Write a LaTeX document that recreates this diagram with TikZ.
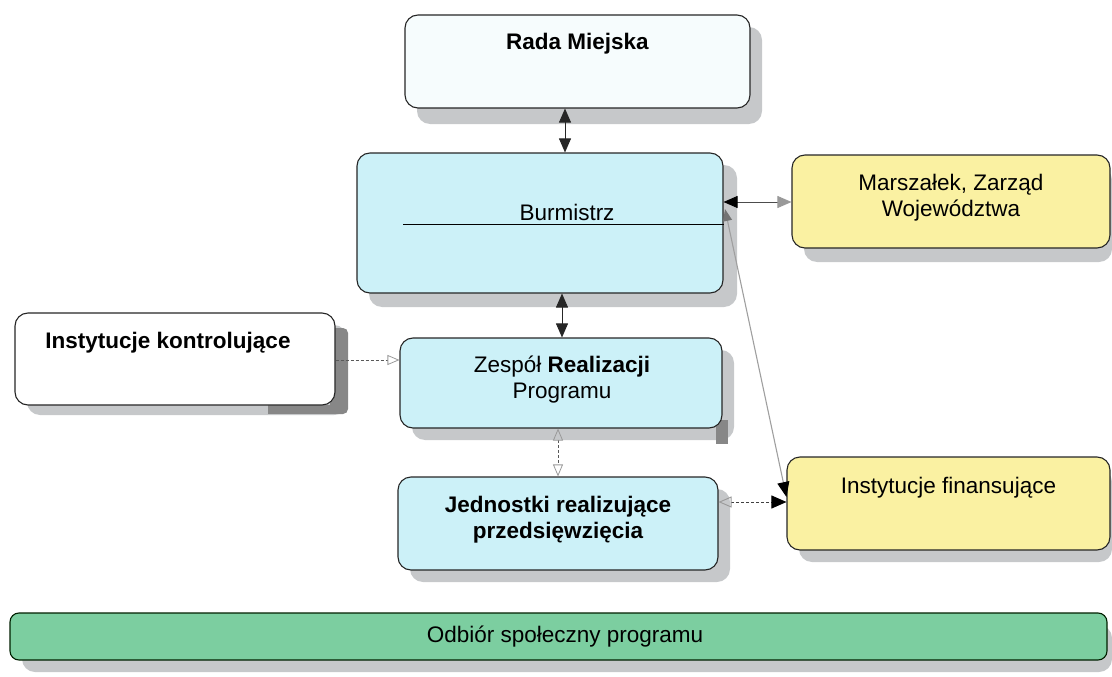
\documentclass[tikz,border=0pt]{standalone}
\usepackage{fontspec}
\setmainfont{Liberation Sans}
\usetikzlibrary{arrows.meta}
\definecolor{lblue}{RGB}{204,241,248}
\definecolor{wblue}{RGB}{246,252,253}
\definecolor{pyellow}{RGB}{250,241,162}
\definecolor{pgreen}{RGB}{124,206,160}
\definecolor{shd}{RGB}{198,200,202}
\definecolor{dshd}{RGB}{135,135,135}
\begin{document}
\begin{tikzpicture}[x=1pt,y=-1pt,
  box/.style={draw=black!85,line width=1.1pt,rounded corners=13pt,inner sep=0pt},
  txt/.style={font=\fontsize{22.5}{26}\selectfont,align=center,inner sep=0pt},
  shadowfill/.style={fill=shd,rounded corners=13pt},
  dbl/.style={{Triangle[length=14pt,width=12pt]}-{Triangle[length=14pt,width=12pt]},line width=0.9pt,draw=black!85},
]
\useasboundingbox (0,0) rectangle (1112,677);

% shadows
\fill[shadowfill] (417,27) rectangle (762,124);
\fill[shadowfill] (369,165) rectangle (737,307);
\fill[shadowfill] (804,167) rectangle (1112,262);
\fill[shadowfill] (27,325) rectangle (347,415);
\fill[dshd,rounded corners=5pt] (330,328) rectangle (348,414);
\fill[dshd] (268,405) rectangle (342,414);
\fill[shadowfill] (412,350) rectangle (734,440);
\fill[dshd] (716,420) rectangle (728,444);
\fill[shadowfill] (410,489) rectangle (730,582);
\fill[shadowfill] (799,469) rectangle (1112,562);
\fill[shadowfill] (22,625) rectangle (1112,672);

% boxes
\node[box,fill=wblue,minimum width=345pt,minimum height=93pt] (rada) at (577.5,61.5) {};
\node[box,fill=lblue,minimum width=366pt,minimum height=140pt] (burm) at (540,223) {};
\node[box,fill=pyellow,minimum width=318pt,minimum height=93pt] (mars) at (951,201.5) {};
\node[box,fill=white,minimum width=320pt,minimum height=92pt] (kontr) at (175,359) {};
\node[box,fill=lblue,minimum width=322pt,minimum height=90pt] (zesp) at (561,383) {};
\node[box,fill=lblue,minimum width=320pt,minimum height=93pt] (jedn) at (558,523.5) {};
\node[box,fill=pyellow,minimum width=323pt,minimum height=93pt] (fin) at (948.5,503.5) {};
\node[box,fill=pgreen,draw=black!70!green!40!black,rounded corners=9pt,minimum width=1097pt,minimum height=47pt] (bar) at (558.5,636.5) {};

% texts
\node[txt] (rada-t) at (577.5,44) {\bfseries Rada Miejska};
\node[txt] (burm-t) at (567,212) {Burmistrz};
\node[txt] (mars-t) at (951,198) {Marszałek, Zarząd\\Województwa};
\node[txt] (kontr-t) at (168,343) {\bfseries Instytucje kontrolujące};
\node[txt] (zesp-t) at (562,380) {Zespół \textbf{Realizacji}\\Programu};
\node[txt] (jedn-t) at (558,520) {\bfseries Jednostki realizujące\\\bfseries przedsięwzięcia};
\node[txt] (fin-t) at (948.5,488) {Instytucje finansujące};
\node[txt] (bar-t) at (565,637) {Odbiór społeczny programu};

% line inside Burmistrz
\coordinate (bl) at (403,224);
\draw[line width=1pt] (bl) -- (bl -| burm.east);

% connectors
\coordinate (xa) at (565,0);
\coordinate (xb) at (562,0);
\coordinate (xc) at (558,0);
\coordinate (ya) at (0,202);
\coordinate (yb) at (0,360);
\coordinate (yc) at (0,502);
\draw[dbl] (rada.south -| xa) -- (burm.north -| xa);
\draw[dbl] (burm.south -| xb) -- (zesp.north -| xb);
\draw[line width=0.9pt,draw=black!70,
  {Triangle[length=14pt,width=12pt,color=black]}-{Triangle[length=14pt,width=12pt,color=gray!80]}]
  (burm.east |- ya) -- (mars.west |- ya);
\draw[line width=1.1pt,draw=gray!75,
  {Triangle[length=12pt,width=9pt,color=gray!90!black]}-{Triangle[length=15pt,width=12pt,color=black]}]
  (725,209) coordinate (dg1) -- (fin.west |- 0,497);
\draw[line width=0.8pt,draw=black!65,densely dashed,-{Triangle[open,length=12pt,width=10pt,color=gray!80]}]
  (kontr.east |- yb) -- (zesp.west |- yb);
\draw[line width=0.8pt,draw=black!65,densely dashed,
  {Triangle[open,length=12pt,width=10pt,color=gray!80]}-{Triangle[open,length=12pt,width=10pt,color=gray!80]}]
  (zesp.south -| xc) -- (jedn.north -| xc);
\draw[line width=0.9pt,draw=black!75,densely dashed,
  {Triangle[open,length=13pt,width=11pt,color=gray!80]}-{Triangle[length=15pt,width=13pt,color=black]}]
  (jedn.east |- yc) -- (fin.west |- yc);
\end{tikzpicture}
\end{document}
